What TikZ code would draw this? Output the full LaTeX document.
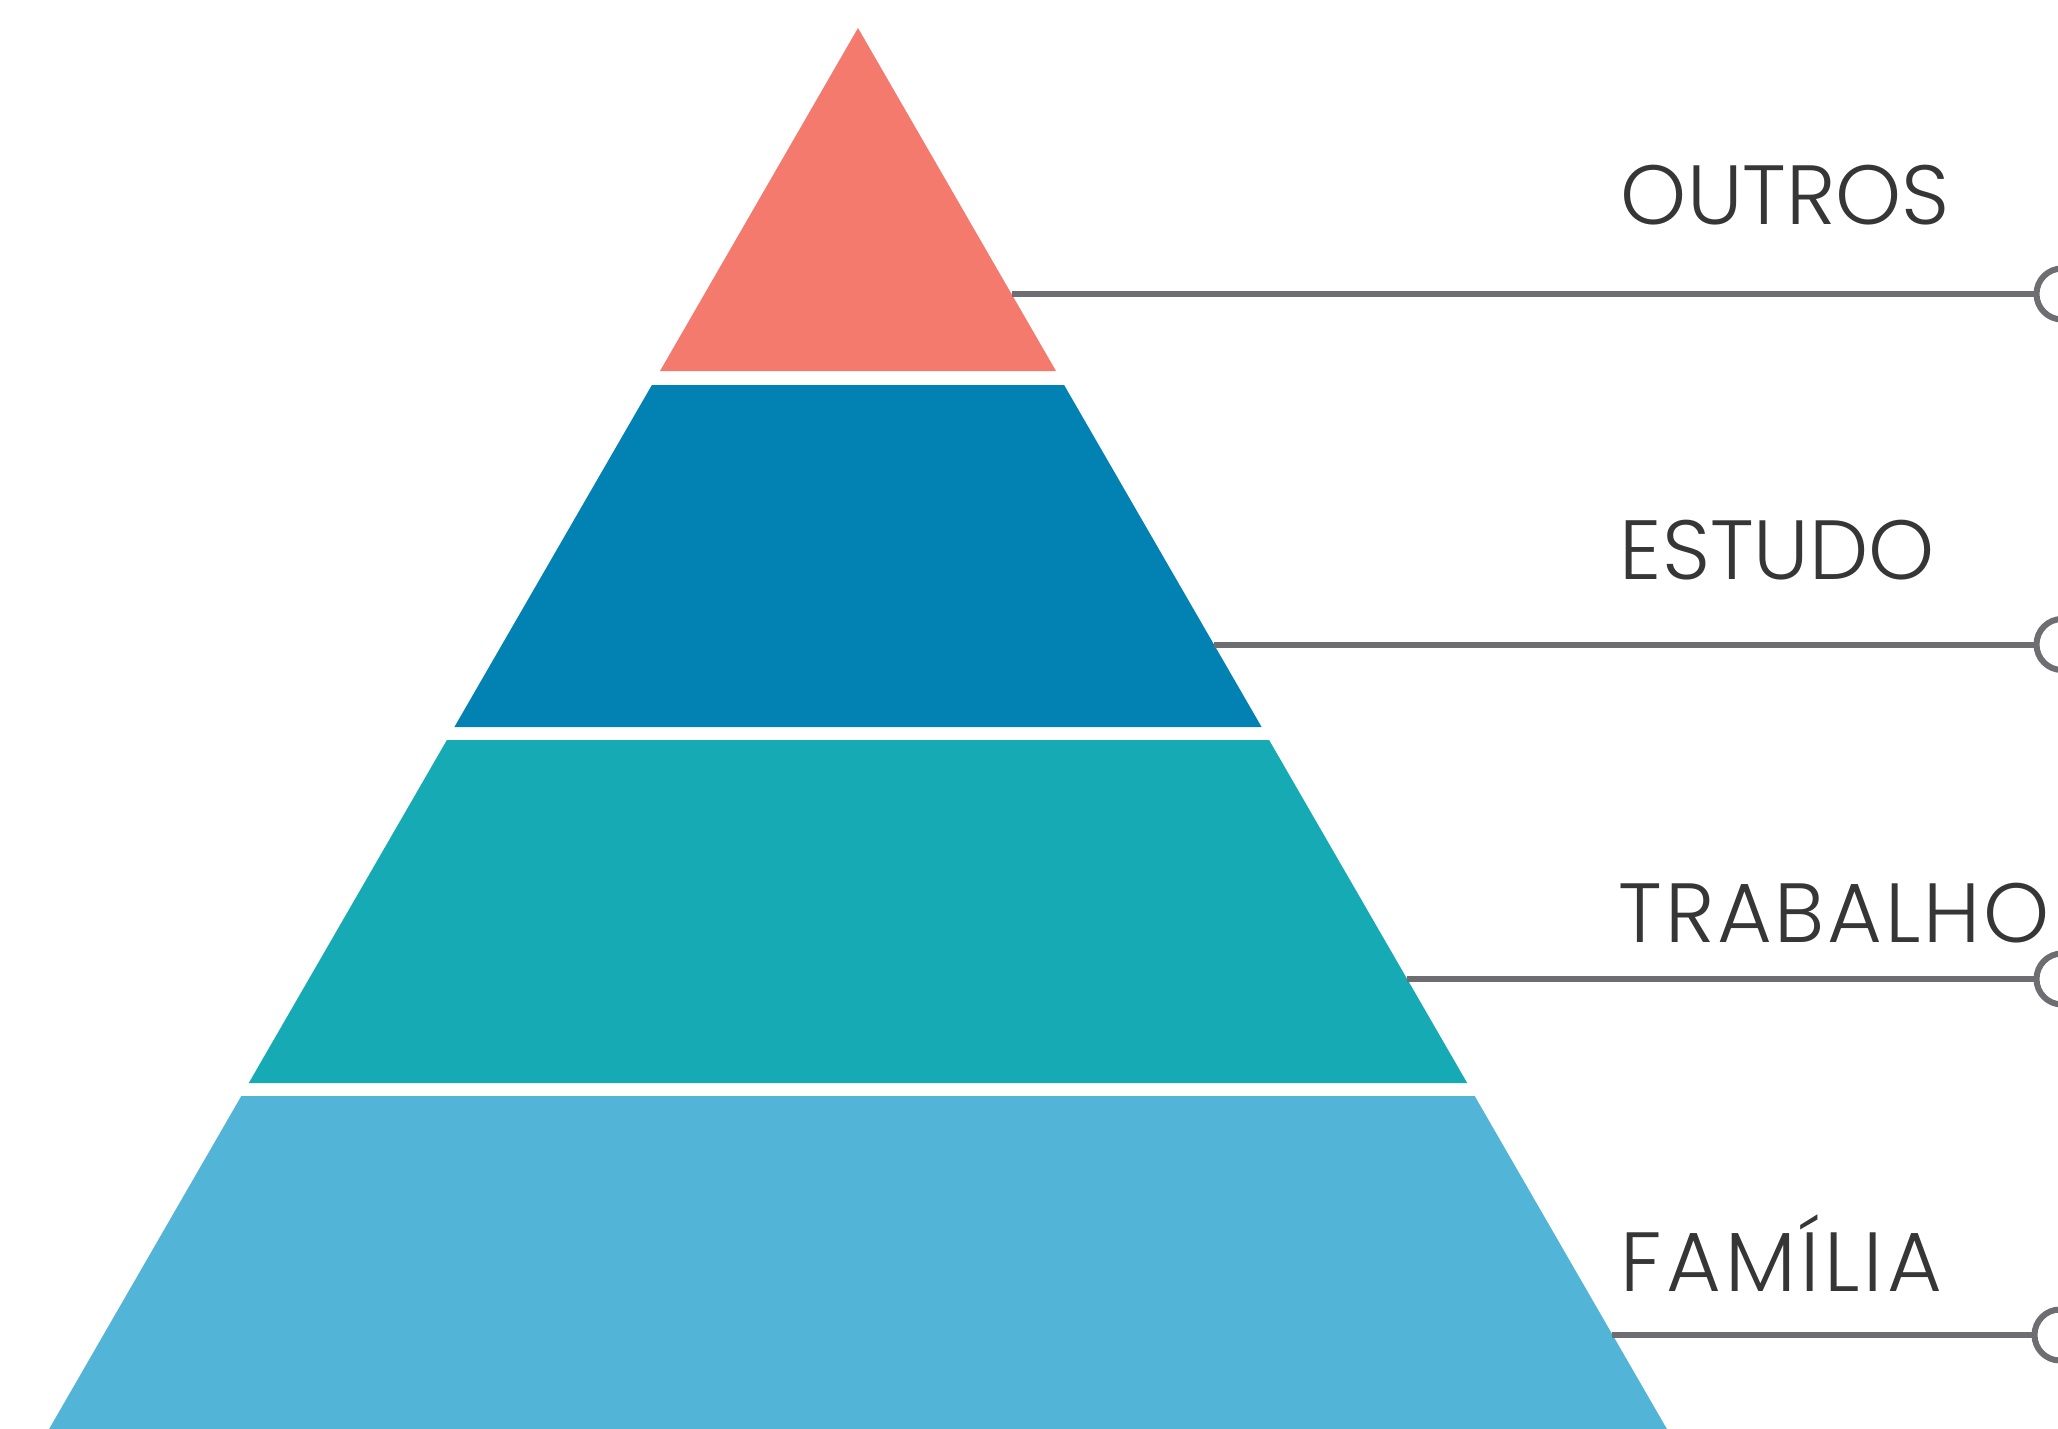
\documentclass[tikz,border=0pt]{standalone}
\usepackage{fontspec}
\IfFontExistsTF{Poppins Light}{\setmainfont{Poppins Light}}{\setmainfont{Poppins}}
\definecolor{tierred}{HTML}{F47A6E}
\definecolor{tierdark}{HTML}{0282B2}
\definecolor{tierteal}{HTML}{15AAB4}
\definecolor{tierlight}{HTML}{52B4D6}
\definecolor{linegray}{HTML}{6E6D72}
\definecolor{textgray}{HTML}{363636}
\begin{document}
\begin{tikzpicture}[x=0.5pt,y=-0.5pt,
  tier/.style={draw=none},
  lbl/.style={anchor=base west,inner sep=0pt,text=textgray,font=\fontsize{42}{42}\selectfont},
  ring/.style={circle,draw=linegray,line width=3pt,minimum size=25.5pt,inner sep=0pt,fill=white},
  conn/.style={draw=linegray,line width=3pt}]
\useasboundingbox (0,0) rectangle (2058,1429);
\clip (0,0) rectangle (2058,1429);
% tiers
\fill[tierred]   (858,28) -- (1056,371) -- (660,371) -- cycle;
\fill[tierdark]  (651.9,385) -- (1064.1,385) -- (1261.6,727) -- (454.4,727) -- cycle;
\fill[tierteal]  (446.9,740) -- (1269.1,740) -- (1467.2,1083) -- (248.8,1083) -- cycle;
\fill[tierlight] (241.3,1096) -- (1474.7,1096) -- (1666.9,1429) -- (49.1,1429) -- cycle;
% anchor points on the pyramid edge
\coordinate (e1) at (1011.5,294);
\coordinate (e2) at (1214,644.5);
\coordinate (e3) at (1407,979);
\coordinate (e4) at (1612,1335);
% rings
\node[ring] (r1) at (2062,294) {};
\node[ring] (r2) at (2062,644.5) {};
\node[ring] (r3) at (2062,979) {};
\node[ring] (r4) at (2060,1335) {};
% connectors
\draw[conn] (e1) -- (r1.west);
\draw[conn] (e2) -- (r2.west);
\draw[conn] (e3) -- (r3.west);
\draw[conn] (e4) -- (r4.west);
% labels
\node[lbl] (t1) at (1620.5,225) {OUTROS};
\node[lbl] (t2) at (1619.5,579) {ESTUDO};
\node[lbl] (t3) at (1618.5,942) {\addfontfeatures{LetterSpace=3.3}TRABALHO};
\node[lbl] (t4) at (1620,1291) {\addfontfeatures{LetterSpace=5.2}FAMÍLIA};
\end{tikzpicture}
\end{document}
